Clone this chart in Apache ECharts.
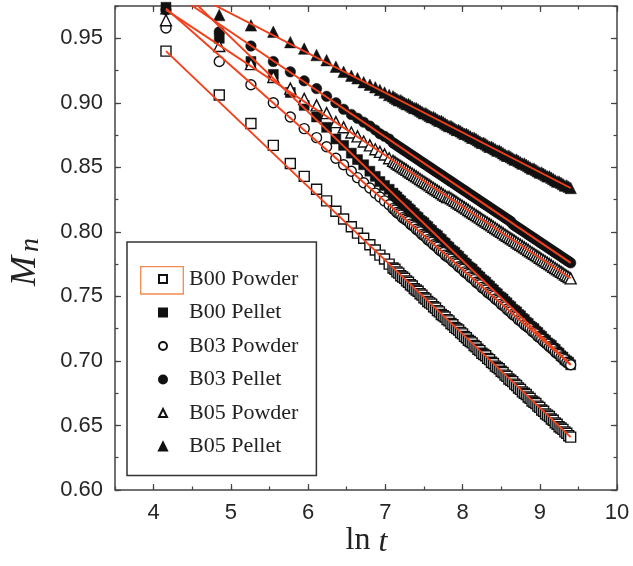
<!DOCTYPE html>
<html><head><meta charset="utf-8">
<script src="https://cdn.jsdelivr.net/npm/echarts@6/dist/echarts.min.js"></script>
<style>html,body{margin:0;padding:0;background:#fff}#c{width:633px;height:566px}</style>
</head><body><div id="c"></div>
<script>
// ln t values of the measurements
const lnT = [4.16, 4.85, 5.26, 5.55, 5.77, 5.95, 6.11, 6.24, 6.36, 6.46, 6.56, 6.64, 6.72, 6.80, 6.87, 6.93, 6.99, 7.05,
  7.100, 7.125, 7.150, 7.175, 7.200, 7.225, 7.250, 7.275, 7.300, 7.325, 7.350, 7.375, 7.400, 7.425, 7.450, 7.475, 7.500, 7.525,
  7.550, 7.575, 7.600, 7.625, 7.650, 7.675, 7.700, 7.725, 7.750, 7.775, 7.800, 7.825, 7.850, 7.875, 7.900, 7.925, 7.950, 7.975,
  8.000, 8.025, 8.050, 8.075, 8.100, 8.125, 8.150, 8.175, 8.200, 8.225, 8.250, 8.275, 8.300, 8.325, 8.350, 8.375, 8.400, 8.425,
  8.450, 8.475, 8.500, 8.525, 8.550, 8.575, 8.600, 8.625, 8.650, 8.675, 8.700, 8.725, 8.750, 8.775, 8.800, 8.825, 8.850, 8.875,
  8.900, 8.925, 8.950, 8.975, 9.000, 9.025, 9.050, 9.075, 9.100, 9.125, 9.150, 9.175, 9.200, 9.225, 9.250, 9.275, 9.300, 9.325,
  9.350, 9.375, 9.400];

const b00Powder = [0.940, 0.906, 0.884, 0.867, 0.853, 0.843, 0.833, 0.824, 0.816, 0.810, 0.804, 0.799, 0.795, 0.790, 0.786, 0.782, 0.779, 0.775,
  0.772, 0.771, 0.769, 0.768, 0.766, 0.765, 0.764, 0.762, 0.761, 0.759,
  0.758, 0.756, 0.755, 0.754, 0.752, 0.751, 0.749, 0.748, 0.746, 0.745,
  0.744, 0.742, 0.741, 0.739, 0.738, 0.736, 0.735, 0.734, 0.732, 0.731,
  0.729, 0.728, 0.726, 0.725, 0.724, 0.722, 0.721, 0.719, 0.718, 0.716,
  0.715, 0.714, 0.712, 0.711, 0.709, 0.708, 0.706, 0.705, 0.704, 0.702,
  0.701, 0.699, 0.698, 0.696, 0.695, 0.694, 0.692, 0.691, 0.689, 0.688,
  0.686, 0.685, 0.684, 0.682, 0.681, 0.679, 0.678, 0.676, 0.675, 0.674,
  0.672, 0.671, 0.669, 0.668, 0.667, 0.665, 0.664, 0.662, 0.661, 0.659,
  0.658, 0.657, 0.655, 0.654, 0.652, 0.651, 0.649, 0.648, 0.647, 0.645,
  0.644, 0.642, 0.641];

const b00Pellet = [0.974, 0.950, 0.932, 0.922, 0.908, 0.898, 0.889, 0.881, 0.872, 0.867, 0.861, 0.856, 0.852, 0.847, 0.843, 0.839, 0.836, 0.833,
  0.830, 0.828, 0.827, 0.825, 0.824, 0.822, 0.821, 0.820, 0.818, 0.817,
  0.815, 0.814, 0.812, 0.811, 0.809, 0.808, 0.807, 0.805, 0.804, 0.802,
  0.801, 0.799, 0.798, 0.797, 0.795, 0.794, 0.792, 0.791, 0.789, 0.788,
  0.786, 0.785, 0.784, 0.782, 0.781, 0.779, 0.778, 0.776, 0.775, 0.773,
  0.772, 0.771, 0.769, 0.768, 0.766, 0.765, 0.763, 0.762, 0.761, 0.759,
  0.758, 0.756, 0.755, 0.753, 0.752, 0.750, 0.749, 0.748, 0.746, 0.745,
  0.743, 0.742, 0.740, 0.739, 0.738, 0.736, 0.735, 0.733, 0.732, 0.730,
  0.729, 0.727, 0.726, 0.725, 0.723, 0.722, 0.720, 0.719, 0.717, 0.716,
  0.714, 0.713, 0.712, 0.710, 0.709, 0.707, 0.706, 0.704, 0.703, 0.701,
  0.700, 0.699, 0.697];

const b03Powder = [0.958, 0.932, 0.914, 0.900, 0.889, 0.880, 0.873, 0.866, 0.857, 0.852, 0.847, 0.842, 0.838, 0.834, 0.830, 0.827, 0.824, 0.821,
  0.818, 0.817, 0.815, 0.814, 0.813, 0.811, 0.810, 0.809, 0.808, 0.806,
  0.805, 0.804, 0.802, 0.801, 0.800, 0.798, 0.797, 0.796, 0.794, 0.793,
  0.792, 0.790, 0.789, 0.788, 0.786, 0.785, 0.784, 0.782, 0.781, 0.780,
  0.779, 0.777, 0.776, 0.775, 0.773, 0.772, 0.771, 0.769, 0.768, 0.767,
  0.765, 0.764, 0.763, 0.761, 0.760, 0.759, 0.757, 0.756, 0.755, 0.753,
  0.752, 0.751, 0.750, 0.748, 0.747, 0.746, 0.744, 0.743, 0.742, 0.740,
  0.739, 0.738, 0.736, 0.735, 0.734, 0.732, 0.731, 0.730, 0.728, 0.727,
  0.726, 0.725, 0.723, 0.722, 0.721, 0.719, 0.718, 0.717, 0.715, 0.714,
  0.713, 0.711, 0.710, 0.709, 0.707, 0.706, 0.705, 0.703, 0.702, 0.701,
  0.699, 0.698, 0.697];

const b03Pellet = [0.972, 0.955, 0.944, 0.932, 0.924, 0.917, 0.911, 0.905, 0.900, 0.895, 0.891, 0.888, 0.885, 0.882, 0.879, 0.876, 0.874, 0.872,
  0.869, 0.868, 0.867, 0.866, 0.865, 0.864, 0.863, 0.862, 0.861, 0.860,
  0.859, 0.858, 0.857, 0.856, 0.855, 0.854, 0.853, 0.852, 0.851, 0.850,
  0.849, 0.848, 0.847, 0.846, 0.845, 0.844, 0.843, 0.842, 0.841, 0.840,
  0.839, 0.838, 0.837, 0.836, 0.835, 0.834, 0.833, 0.832, 0.831, 0.830,
  0.829, 0.828, 0.827, 0.826, 0.825, 0.824, 0.823, 0.822, 0.821, 0.820,
  0.819, 0.818, 0.817, 0.816, 0.815, 0.814, 0.813, 0.812, 0.811, 0.810,
  0.809, 0.808, 0.806, 0.805, 0.804, 0.803, 0.802, 0.801, 0.800, 0.799,
  0.798, 0.797, 0.796, 0.795, 0.794, 0.793, 0.792, 0.791, 0.790, 0.789,
  0.788, 0.787, 0.786, 0.785, 0.784, 0.783, 0.782, 0.781, 0.780, 0.779,
  0.778, 0.777, 0.776];

const b05Powder = [0.964, 0.944, 0.930, 0.920, 0.911, 0.903, 0.898, 0.892, 0.885, 0.881, 0.877, 0.874, 0.870, 0.867, 0.864, 0.862, 0.860, 0.857,
  0.855, 0.854, 0.853, 0.852, 0.851, 0.850, 0.849, 0.848, 0.847, 0.846,
  0.845, 0.844, 0.843, 0.842, 0.841, 0.840, 0.839, 0.838, 0.837, 0.836,
  0.835, 0.834, 0.833, 0.832, 0.831, 0.830, 0.829, 0.828, 0.827, 0.827,
  0.826, 0.825, 0.824, 0.823, 0.822, 0.821, 0.820, 0.819, 0.818, 0.817,
  0.816, 0.815, 0.814, 0.813, 0.812, 0.811, 0.810, 0.809, 0.808, 0.807,
  0.806, 0.805, 0.804, 0.803, 0.802, 0.801, 0.800, 0.799, 0.798, 0.797,
  0.796, 0.795, 0.794, 0.793, 0.792, 0.791, 0.790, 0.789, 0.788, 0.787,
  0.786, 0.785, 0.784, 0.783, 0.782, 0.781, 0.780, 0.779, 0.778, 0.777,
  0.776, 0.775, 0.774, 0.773, 0.772, 0.771, 0.770, 0.769, 0.768, 0.767,
  0.766, 0.765, 0.764];

const b05Pellet = [0.973, 0.968, 0.960, 0.955, 0.947, 0.942, 0.937, 0.933, 0.928, 0.924, 0.921, 0.919, 0.916, 0.914, 0.912, 0.910, 0.908, 0.906,
  0.905, 0.904, 0.903, 0.902, 0.902, 0.901, 0.900, 0.899, 0.899, 0.898,
  0.897, 0.896, 0.896, 0.895, 0.894, 0.893, 0.892, 0.892, 0.891, 0.890,
  0.889, 0.889, 0.888, 0.887, 0.886, 0.886, 0.885, 0.884, 0.883, 0.882,
  0.882, 0.881, 0.880, 0.879, 0.879, 0.878, 0.877, 0.876, 0.876, 0.875,
  0.874, 0.873, 0.873, 0.872, 0.871, 0.870, 0.869, 0.869, 0.868, 0.867,
  0.866, 0.866, 0.865, 0.864, 0.863, 0.863, 0.862, 0.861, 0.860, 0.859,
  0.859, 0.858, 0.857, 0.856, 0.856, 0.855, 0.854, 0.853, 0.853, 0.852,
  0.851, 0.850, 0.849, 0.849, 0.848, 0.847, 0.846, 0.846, 0.845, 0.844,
  0.843, 0.843, 0.842, 0.841, 0.840, 0.839, 0.839, 0.838, 0.837, 0.836,
  0.836, 0.835, 0.834];

// linear fits: value at ln t = fitX[0] and fitX[1]
const fitX = [4.16, 9.40];
const fitB00Powder = [0.940, 0.641];
const fitB00Pellet = [0.999, 0.697];
const fitB03Powder = [0.973, 0.697];
const fitB03Pellet = [0.989, 0.776];
const fitB05Powder = [0.972, 0.764];
const fitB05Pellet = [0.995, 0.834];

const seriesNames = ['B00 Powder', 'B00 Pellet', 'B03 Powder', 'B03 Pellet', 'B05 Powder', 'B05 Pellet'];
const xTickValues = [4, 5, 6, 7, 8, 9, 10];
const yTickValues = [0.60, 0.65, 0.70, 0.75, 0.80, 0.85, 0.90, 0.95];

const defs = [
  {data: b00Powder, fit: fitB00Powder, symbol: 'rect', filled: false, size: 10},
  {data: b00Pellet, fit: fitB00Pellet, symbol: 'rect', filled: true, size: 10},
  {data: b03Powder, fit: fitB03Powder, symbol: 'circle', filled: false, size: 10},
  {data: b03Pellet, fit: fitB03Pellet, symbol: 'circle', filled: true, size: 10.5},
  {data: b05Powder, fit: fitB05Powder, symbol: 'triangle', filled: false, size: 11},
  {data: b05Pellet, fit: fitB05Pellet, symbol: 'triangle', filled: true, size: 11.5}
];

const RED = '#f2401b';
const INK = '#111';
const AX = '#444';

const series = [];
defs.forEach((d, i) => {
  series.push({
    type: 'scatter', name: seriesNames[i], xAxisIndex: 0, yAxisIndex: 0,
    symbol: d.symbol, symbolSize: d.size,
    data: lnT.map((x, k) => [x, d.data[k]]),
    itemStyle: d.filled ? {color: INK, borderColor: INK, borderWidth: 0.5, opacity: 1}
                        : {color: '#fff', borderColor: INK, borderWidth: 1.4, opacity: 1},
    z: 2
  });
});
defs.forEach((d, i) => {
  series.push({
    type: 'line', name: seriesNames[i] + ' fit', xAxisIndex: 0, yAxisIndex: 0,
    data: fitX.map((x, k) => [x, d.fit[k]]),
    symbol: 'none', lineStyle: {color: RED, width: 1.9}, z: 5, silent: true
  });
});

const font = '"Liberation Sans", Arial, sans-serif';
const serif = '"Liberation Serif", "Times New Roman", serif';

function xAx(pos, major, labels) {
  const a = {
    type: 'value', min: 3.5, max: 10, position: pos, gridIndex: 0,
    axisLine: {show: false}, splitLine: {show: false},
    axisTick: {inside: true, length: major ? 6 : 3.5, lineStyle: {color: AX, width: 1.2}},
    axisLabel: {show: labels, margin: 12, fontSize: 22, fontFamily: font, color: '#262626'}
  };
  if (major) { a.axisTick.customValues = xTickValues; a.axisLabel.customValues = xTickValues; }
  else { a.interval = 0.5; }
  return a;
}
function yAx(pos, major, labels) {
  const a = {
    type: 'value', min: 0.60, max: 0.975, position: pos, gridIndex: 0,
    axisLine: {show: false}, splitLine: {show: false},
    axisTick: {inside: true, length: major ? 6 : 3.5, lineStyle: {color: AX, width: 1.2}},
    axisLabel: {show: labels, margin: 12, fontSize: 22, fontFamily: font, color: '#262626',
      formatter: v => v.toFixed(2)}
  };
  if (major) { a.axisTick.customValues = yTickValues; a.axisLabel.customValues = yTickValues; }
  else { a.interval = 0.025; }
  return a;
}

const chart = echarts.init(document.getElementById('c'), null, {renderer: 'canvas'});
chart.setOption({
  animation: false,
  backgroundColor: '#fff',
  grid: {left: 115, right: 16, top: 6, bottom: 76, show: true, borderColor: AX, borderWidth: 1.5, containLabel: false},
  xAxis: [xAx('bottom', true, true), xAx('bottom', false, false), xAx('top', true, false), xAx('top', false, false)],
  yAxis: [yAx('left', true, true), yAx('left', false, false), yAx('right', true, false), yAx('right', false, false)],
  legend: {
    data: seriesNames, orient: 'vertical', left: 127, top: 242,
    itemWidth: 8, itemHeight: 8, itemGap: 11.5,
    padding: [26, 18, 18, 31], borderColor: '#333', borderWidth: 1.5, backgroundColor: '#fff',
    selectedMode: false,
    textStyle: {fontFamily: serif, fontSize: 22, color: '#222', lineHeight: 22, padding: [0, 0, 0, 17]}
  },
  graphic: [
    {type: 'rect', shape: {x: 140.7, y: 266.7, width: 42.6, height: 27.3},
     style: {fill: 'none', stroke: '#f08a50', lineWidth: 1.3}, z: 100},
    {type: 'text', x: 26, y: 271, rotation: Math.PI / 2,
     style: {text: 'M', font: 'italic 36px ' + serif, fill: '#222', align: 'center', verticalAlign: 'middle'}, z: 100},
    {type: 'text', x: 31, y: 245, rotation: Math.PI / 2,
     style: {text: 'n', font: 'italic 28px ' + serif, fill: '#222', align: 'center', verticalAlign: 'middle'}, z: 100},
    {type: 'text', x: 358, y: 541,
     style: {text: 'ln', font: '32px ' + serif, fill: '#222', align: 'center', verticalAlign: 'middle'}, z: 100},
    {type: 'text', x: 383, y: 543,
     style: {text: 't', font: 'italic 32px ' + serif, fill: '#222', align: 'center', verticalAlign: 'middle'}, z: 100}
  ],
  series: series
});
</script></body></html>
